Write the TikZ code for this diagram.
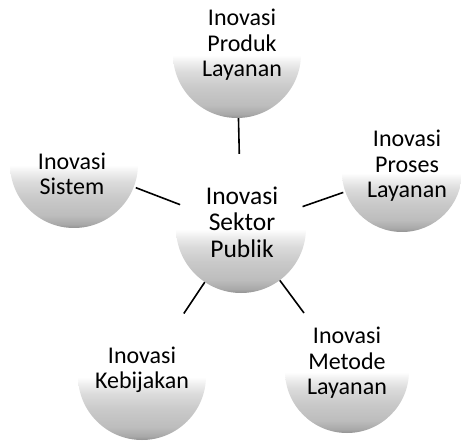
\documentclass[tikz,border=0pt]{standalone}
\usepackage{fontspec}
\setmainfont{Carlito}
\pgfdeclareverticalshading{sphere}{100bp}{color(0bp)=(gray!85); color(25bp)=(gray!85); color(26.5bp)=(gray!68); color(30bp)=(gray!52); color(37bp)=(gray!42); color(43bp)=(gray!28); color(47bp)=(gray!12); color(49.5bp)=(white); color(100bp)=(white)}
\begin{document}
\begin{tikzpicture}[x=1pt,y=-1pt,
  orb/.style={circle, draw=none, shading=sphere, inner sep=0pt, minimum size=#1},
  lbl/.style={align=center, inner sep=0pt, font=\fontsize{24}{25.5}\selectfont},
  biglbl/.style={align=center, inner sep=0pt, font=\fontsize{25.5}{26.5}\selectfont},
  link/.style={line width=1.6pt, black}]
\useasboundingbox (0,0) rectangle (461,441);
% spheres
\node[orb=128pt] (top) at (237,54) {};
\node[orb=130pt] (ctr) at (241,228) {};
\node[orb=128pt] (lft) at (74,164) {};
\node[orb=120pt] (rgt) at (402,172) {};
\node[orb=128pt] (bl) at (142,376) {};
\node[orb=124pt] (br) at (347,371) {};
% connectors
\draw[link, shorten <=9pt] (ctr) -- (top);
\draw[link, shorten >=2pt] (ctr) -- (lft);
\draw[link, shorten >=2pt] (ctr) -- (rgt);
\draw[link, shorten >=11pt] (ctr) -- (bl);
\draw[link, shorten >=10pt] (ctr) -- (br);
% labels
\node[lbl] (ttop) at (242,45) {Inovasi\\Produk\\Layanan};
\node[biglbl] (tctr) at (242,222) {Inovasi\\Sektor\\Publik};
\node[lbl] (tlft) at (72,174) {Inovasi\\Sistem};
\node[lbl] (trgt) at (407,166) {Inovasi\\Proses\\Layanan};
\node[lbl] (tbl) at (142,370) {Inovasi\\Kebijakan};
\node[lbl] (tbr) at (347,363) {Inovasi\\Metode\\Layanan};
\end{tikzpicture}
\end{document}
